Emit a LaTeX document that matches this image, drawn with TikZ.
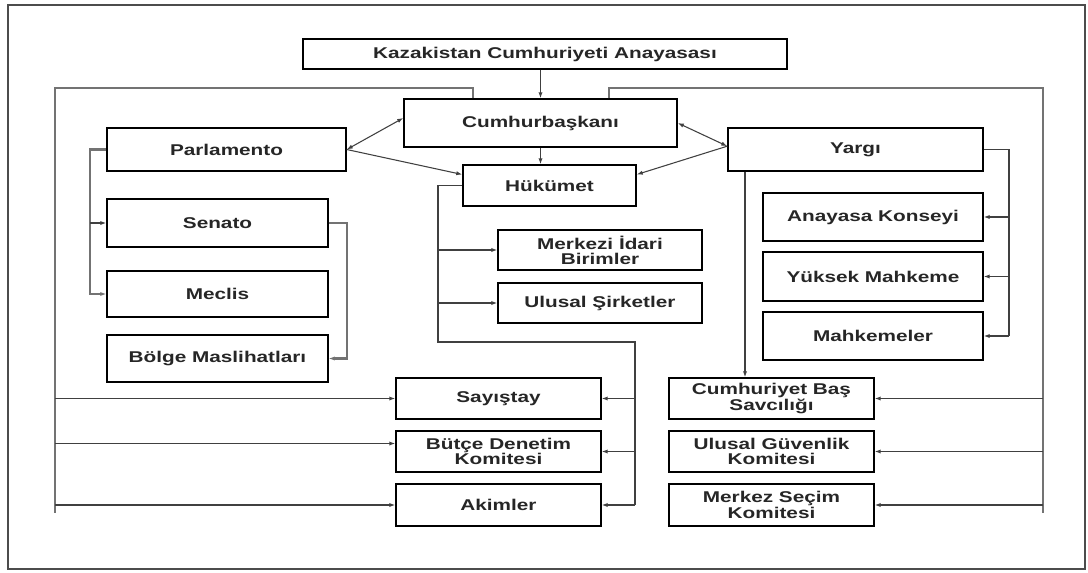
\documentclass[tikz,border=0pt]{standalone}
\usepackage{fontspec}
\setmainfont{Liberation Sans}[FakeStretch=1.33]
\usetikzlibrary{arrows.meta}

\tikzset{
  kutu/.style 2 args={draw, line width=1.1pt, inner sep=0pt, align=center,
    minimum width=#1*0.75pt, minimum height=#2*0.75pt,
    font=\bfseries\fontsize{11.7}{11.4}\selectfont, text=black!85},
  wire/.style={line width=0.8pt, black!75},
  rail/.style={line width=1.6pt, black!55},
}

\begin{document}
\begin{tikzpicture}[x=0.75pt, y=-0.75pt, >={Latex[length=4.5pt,width=3.2pt]}]
	\useasboundingbox (0,0) rectangle (1088,572);
	\draw [line width=1.1pt, black!70] (8,5) rectangle (1085,569);
	
	\node [kutu={484}{30}] (kaz) at (545,54) {Kazakistan Cumhuriyeti Anayasası};
	\node [kutu={273}{48}] (cumb) at (540.5,123) {Cumhurbaşkanı};
	\node [kutu={173}{41}] (huk) at (549.5,185.5) {Hükümet};
	\node [kutu={239}{43}] (parl) at (226.5,149.5) {Parlamento};
	\node [kutu={255}{43}] (yargi) at (855.5,149.5) {Yargı};
	
	\node [kutu={221}{48}] (senato) at (217.5,223) {Senato};
	\node [kutu={221}{46}] (meclis) at (217.5,294) {Meclis};
	\node [kutu={221}{47}] (bolge) at (217.5,358.5) {Bölge Maslihatları};
	
	\node [kutu={204}{40}] (merkezi) at (600,250) {Merkezi İdari\\Birimler};
	\node [kutu={204}{40}] (ulusal) at (600,303) {Ulusal Şirketler};
	
	\node [kutu={220}{48}] (anayasa) at (873,217) {Anayasa Konseyi};
	\node [kutu={220}{49}] (yuksek) at (873,276.5) {Yüksek Mahkeme};
	\node [kutu={220}{48}] (mahkeme) at (873,336) {Mahkemeler};
	
	\node [kutu={205}{41}] (sayistay) at (498.5,398.5) {Sayıştay};
	\node [kutu={205}{41}] (butce) at (498.5,451.5) {Bütçe Denetim\\Komitesi};
	\node [kutu={205}{42}] (akimler) at (498.5,505) {Akimler};
	
	\node [kutu={205}{41}] (savci) at (771.5,398.5) {Cumhuriyet Baş\\Savcılığı};
	\node [kutu={205}{41}] (guvenlik) at (771.5,451.5) {Ulusal Güvenlik\\Komitesi};
	\node [kutu={205}{42}] (secim) at (771.5,505) {Merkez Seçim\\Komitesi};
	
	% anayasa -> cumhurbaskani -> hukumet
	\draw [wire,->] (cumb.north |- kaz.south) -- (cumb.north);
	\draw [wire,->] (cumb.south) -- (cumb.south |- huk.north);
	
	\draw [wire,<->] (parl.east) -- ([yshift=3.75pt]cumb.west);
	\draw [wire,->] (parl.east) -- ([yshift=8.25pt]huk.west);
	\draw [wire,<->] (cumb.east) -- ([yshift=2.5pt]yargi.west);
	\draw [wire,->] ([yshift=2.5pt]yargi.west) -- ([yshift=8.25pt]huk.east);
	
	% left rail
	\coordinate (ltop) at (473,88);
	\coordinate (lrail) at (55,513);
	\draw [rail] (ltop |- cumb.north) -- (ltop) -| (lrail);
	\coordinate (bt) at ([yshift=6pt]butce.west);
	\draw [wire,->] (lrail |- sayistay.west) -- (sayistay.west);
	\draw [wire,->] (lrail |- bt) -- (bt);
	\draw [wire,->] (lrail |- akimler.west) -- (akimler.west);
	
	% right rail
	\coordinate (rtop) at (609,88);
	\coordinate (rrail) at (1043,513);
	\draw [rail] (rtop |- cumb.north) -- (rtop) -| (rrail);
	\draw [wire,->] (rrail |- savci.east) -- (savci.east);
	\draw [wire,->] (rrail |- guvenlik.east) -- (guvenlik.east);
	\draw [wire,->] (rrail |- secim.east) -- (secim.east);
	
	% parlamento
	\coordinate (pbar) at (90,0);
	\draw [rail,->] (parl.west) -| (pbar |- meclis.west) -- (meclis.west);
	\draw [wire,->] (pbar |- senato.west) -- (senato.west);
	\draw [rail,->] (senato.east) -- ++(18,0) |- (bolge.east);
	
	% hukumet
	\coordinate (hbar) at (438,342);
	\coordinate (hbar2) at (635,342);
	\draw [wire] (huk.west) -| (hbar) -- (hbar2) -- (hbar2 |- akimler.east);
	\draw [wire,->] (hbar |- merkezi.west) -- (merkezi.west);
	\draw [wire,->] (hbar |- ulusal.west) -- (ulusal.west);
	\draw [wire,->] (hbar2 |- sayistay.east) -- (sayistay.east);
	\draw [wire,->] (hbar2 |- butce.east) -- (butce.east);
	\draw [wire,->] (hbar2 |- akimler.east) -- (akimler.east);
	
	% yargi
	\coordinate (ybar) at (1009,336);
	\coordinate (ydown) at (745,0);
	\draw [wire] (yargi.east) -| (ybar);
	\draw [wire,->] (ybar |- anayasa.east) -- (anayasa.east);
	\draw [wire,->] (ybar |- yuksek.east) -- (yuksek.east);
	\draw [wire,->] (ybar |- mahkeme.east) -- (mahkeme.east);
	\draw [wire,->] (ydown |- yargi.south) -- (ydown |- savci.north);
	
\end{tikzpicture}
\end{document}
